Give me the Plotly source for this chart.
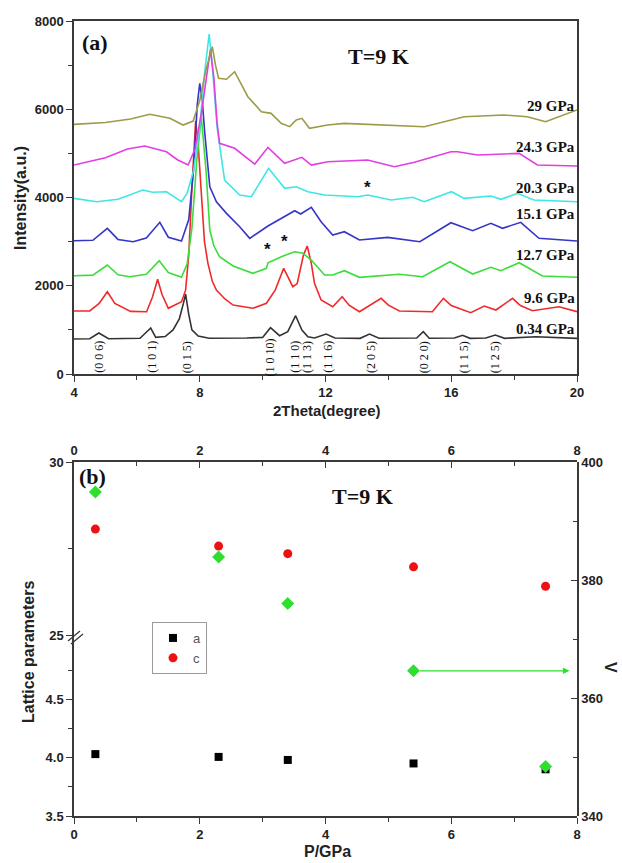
import plotly.graph_objects as go

W, H = 622, 863

# ---------------- Panel (a) data: XRD patterns (2theta in degrees, intensity a.u.) ----------------
black_x = [4.0, 4.5, 4.79, 5.1, 6.1, 6.44, 6.6, 6.9, 7.15, 7.35, 7.48, 7.55, 7.65, 7.75, 7.95, 8.3, 9.5,
           10.0, 10.25, 10.54, 10.8, 11.05, 11.25, 11.44, 11.65, 12.02, 12.3, 13.1, 13.4, 13.7, 14.9,
           15.11, 15.3, 16.1, 16.36, 16.6, 17.1, 17.4, 17.7, 18.69, 20.0]
black_y = [793, 800, 929, 800, 810, 1042, 830, 850, 1000, 1250, 1600, 1813, 1350, 1000, 860, 810, 815,
           830, 1050, 868, 960, 1321, 997, 845, 815, 906, 815, 808, 906, 810, 815,
           960, 810, 815, 877, 808, 815, 884, 808, 845, 808]

red_x = [4.0, 4.5, 4.8, 5.06, 5.3, 5.8, 6.31, 6.5, 6.66, 6.8, 7.0, 7.2, 7.42, 7.55, 7.65, 7.75, 7.82,
         7.87, 7.95, 8.05, 8.15, 8.26, 8.4, 8.53, 8.8, 9.06, 9.69, 10.12, 10.4, 10.67, 10.85, 10.96,
         11.1, 11.3, 11.42, 11.55, 11.65, 11.86, 12.23, 12.53, 12.75, 13.08, 13.77, 14.0, 14.35, 15.4,
         15.75, 16.0, 16.62, 17.05, 17.42, 17.95, 18.2, 18.58, 19.43, 20.0]
red_y = [1428, 1430, 1600, 1865, 1600, 1420, 1412, 1750, 2146, 1800, 1489, 1560, 1638, 1900, 2700, 4200,
         5300, 5740, 5200, 4000, 3000, 2508, 2100, 1903, 1700, 1563, 1489, 1602, 1900, 2395, 2150, 1978,
         2050, 2700, 2900, 2500, 2055, 1677, 1525, 1752, 1560, 1412, 1715, 1560, 1428, 1412,
         1715, 1550, 1389, 1541, 1450, 1715, 1550, 1435, 1525, 1412]

green_x = [4.0, 4.6, 5.06, 5.4, 5.78, 6.3, 6.71, 7.0, 7.42, 7.6, 7.75, 7.9, 8.05, 8.2, 8.32, 8.45, 8.63,
           9.06, 9.69, 10.12, 10.17, 10.65, 11.02, 11.28, 11.55, 11.97, 12.23, 12.6, 13.08, 14.35, 15.09,
           15.96, 16.68, 17.26, 17.58, 18.16, 18.9, 20.0]
green_y = [2228, 2240, 2470, 2250, 2205, 2260, 2568, 2300, 2191, 2500, 3300, 4800, 5830, 4600, 3263, 2900,
           2658, 2447, 2282, 2395, 2522, 2674, 2771, 2735, 2583, 2243, 2243, 2341, 2191, 2259, 2205,
           2545, 2266, 2418, 2341, 2522, 2221, 2191]

blue_x = [4.0, 4.6, 5.06, 5.4, 5.88, 6.3, 6.73, 7.0, 7.42, 7.65, 7.8, 7.92, 8.0, 8.08, 8.16, 8.32, 8.53,
          8.85, 9.27, 9.59, 10.17, 10.59, 11.02, 11.21, 11.55, 11.86, 12.23, 12.6, 13.08, 13.98, 15.0,
          15.99, 16.68, 17.26, 17.63, 18.21, 18.79, 20.0]
blue_y = [3021, 3030, 3301, 3050, 2998, 3080, 3437, 3100, 3014, 3500, 4600, 6100, 6587, 6200, 5460, 4244,
          3904, 3641, 3338, 3075, 3354, 3528, 3701, 3626, 3777, 3451, 3150, 3225, 3036, 3097, 2998,
          3429, 3248, 3414, 3301, 3437, 3075, 3014]

cyan_x = [4.0, 4.72, 5.4, 6.19, 6.5, 6.94, 7.42, 7.6, 7.8, 8.0, 8.15, 8.3, 8.42, 8.55, 8.79, 9.27, 9.64,
          10.19, 10.7, 11.07, 11.44, 11.97, 13.03, 13.34, 14.09, 14.77, 15.14, 16.01, 16.41, 17.26,
          17.58, 18.11, 18.63, 20.0]
cyan_y = [3981, 3905, 3960, 4169, 4120, 4131, 3905, 4100, 4600, 5600, 6800, 7705, 6800, 5600, 4396, 4056,
          4018, 4661, 4208, 4244, 4131, 4056, 4018, 4056, 3943, 4004, 3905, 4131, 3981, 4034,
          3958, 4095, 3943, 3905]

mag_x = [4.0, 5.0, 5.7, 6.25, 6.94, 7.3, 7.63, 7.85, 8.05, 8.2, 8.34, 8.45, 8.55, 8.63, 9.11, 9.75,
         10.17, 10.7, 11.0, 11.25, 11.55, 12.07, 13.34, 14.19, 14.83, 15.99, 16.2, 16.84, 18.16, 18.74, 20.0]
mag_y = [4736, 4900, 5100, 5167, 5037, 4850, 4736, 5100, 5900, 6700, 7357, 6700, 5700, 5227, 5114, 4759,
         5137, 4774, 4850, 4910, 4736, 4811, 4849, 4698, 4797, 5037, 5037, 4962, 5001, 4736, 4713]

olive_x = [4.0, 5.0, 5.8, 6.41, 7.05, 7.47, 7.79, 8.0, 8.2, 8.4, 8.5, 8.6, 8.85, 9.11, 9.53, 9.96,
           10.27, 10.59, 10.86, 11.07, 11.25, 11.49, 12.07, 12.6, 15.14, 16.1, 16.41, 17.68, 18.42, 19.0, 20.0]
olive_y = [5658, 5700, 5780, 5885, 5794, 5643, 5733, 6200, 6900, 7417, 7000, 6700, 6680, 6851, 6284, 5944,
           5907, 5681, 5605, 5756, 5794, 5568, 5643, 5681, 5605, 5771, 5831, 5869, 5831, 5718, 5983]

pressure_labels = ["29 GPa", "24.3 GPa", "20.3 GPa", "15.1 GPa", "12.7 GPa", "9.6 GPa", "0.34 GPa"]
pressure_label_y = [6073, 5144, 4215, 3626, 2697, 1722, 1020]

miller_labels = ["(0 0 6)", "(1 0 1)", "(0 1 5)", "(1 0 10)", "(1 1 0)", "(1 1 3)", "(1 1 6)",
                 "(2 0 5)", "(0 2 0)", "(1 1 5)", "(1 2 5)"]
miller_pos = [4.79, 6.47, 7.6, 10.25, 11.02, 11.41, 12.07, 13.45, 15.14, 16.41, 17.4]

star_x = [10.15, 10.68, 13.32]
star_y = [2826, 2998, 4231]

# tick values / labels
xa_ticks = [4, 8, 12, 16, 20]
ya_ticks = [0, 2000, 4000, 6000, 8000]
p_ticks = [0, 2, 4, 6, 8]
a_ticks = [3.5, 4.0, 4.5]
c_ticks = [25, 30]
v_ticks = [340, 360, 380, 400]

# ---------------- Panel (b) data ----------------
P = [0.34, 2.3, 3.4, 5.4, 7.5]
a_vals = [4.03, 4.006, 3.98, 3.95, 3.90]
c_vals = [28.06, 27.57, 27.35, 26.97, 26.41]
V_vals = [394.9, 383.9, 376.0, 364.6, 348.4]

for xs, ys in [(black_x, black_y), (red_x, red_y), (green_x, green_y), (blue_x, blue_y),
               (cyan_x, cyan_y), (mag_x, mag_y), (olive_x, olive_y)]:
    assert len(xs) == len(ys), (len(xs), len(ys))


def fx(p):
    return p / W


def fy(p):
    return 1 - p / H


def bold(vals, fmt="{}"):
    return ["<b>" + fmt.format(v) + "</b>" for v in vals]


SANS = "Liberation Sans"
SERIF = "Liberation Serif"
AXC = "#3a3a3a"

fig = go.Figure()

curves = [
    (black_x, black_y, "#333333"),
    (red_x, red_y, "#f02a2a"),
    (green_x, green_y, "#3cdc3c"),
    (blue_x, blue_y, "#3535c8"),
    (cyan_x, cyan_y, "#3fe6e6"),
    (mag_x, mag_y, "#e23ee2"),
    (olive_x, olive_y, "#9b9b48"),
]
for xs, ys, col in curves:
    fig.add_trace(go.Scatter(x=xs, y=ys, mode="lines", line=dict(color=col, width=1.6),
                             showlegend=False, xaxis="x", yaxis="y", hoverinfo="skip"))

# Panel (b) traces
fig.add_trace(go.Scatter(x=P, y=a_vals, mode="markers", name="a",
                         marker=dict(symbol="square", size=8, color="black"),
                         xaxis="x2", yaxis="y2"))
fig.add_trace(go.Scatter(x=P, y=c_vals, mode="markers", name="c",
                         marker=dict(symbol="circle", size=9, color="#ee1111"),
                         xaxis="x2", yaxis="y3"))
fig.add_trace(go.Scatter(x=P, y=V_vals, mode="markers", name="V", showlegend=False,
                         marker=dict(symbol="diamond", size=10, color="#2ee02e"),
                         xaxis="x2", yaxis="y4"))
# invisible trace so that the top axis of panel (b) is drawn
fig.add_trace(go.Scatter(x=P, y=c_vals, mode="markers", showlegend=False, hoverinfo="skip",
                         marker=dict(size=1, color="rgba(0,0,0,0)"), xaxis="x3", yaxis="y3"))

xdom = [fx(74), fx(577)]
tickfont = dict(family=SANS, size=13, color="#222")
common = dict(showline=True, linecolor=AXC, linewidth=1.5, showgrid=False, zeroline=False,
              automargin=False, tickfont=tickfont, tickcolor=AXC, ticklen=6, tickwidth=1.3)


def minor(vals, side):
    return dict(tickvals=vals, ticks=side, ticklen=4, tickcolor=AXC, tickwidth=1.2)


fig.update_layout(
    width=W, height=H,
    margin=dict(l=0, r=0, t=0, b=0, autoexpand=False),
    paper_bgcolor="white", plot_bgcolor="rgba(0,0,0,0)",
    xaxis=dict(domain=xdom, range=[4, 20], anchor="y", mirror=True, ticks="outside",
               tickvals=xa_ticks, ticktext=bold(xa_ticks),
               minor=minor([6, 10, 14, 18], "outside"), **common),
    yaxis=dict(domain=[fy(374), fy(21)], range=[0, 8000], anchor="x", mirror=True, ticks="outside",
               tickvals=ya_ticks, ticktext=bold(ya_ticks),
               minor=minor([1000, 3000, 5000, 7000], "outside"), **common),
    xaxis2=dict(domain=xdom, range=[0, 8], anchor="y2", ticks="outside",
                tickvals=p_ticks, ticktext=bold(p_ticks),
                minor=minor([1, 3, 5, 7], "outside"), **common),
    xaxis3=dict(overlaying="x2", range=[0, 8], anchor="y3", side="top", ticks="inside",
                tickvals=p_ticks, ticktext=bold(p_ticks),
                minor=minor([1, 3, 5, 7], "inside"), **common),
    yaxis2=dict(domain=[fy(816), fy(635)], range=[3.5, 5.05], anchor="x2", ticks="outside",
                tickvals=a_ticks, ticktext=bold(a_ticks, "{:.1f}"),
                minor=minor([3.75, 4.25, 4.75], "outside"), **common),
    yaxis3=dict(domain=[fy(635), fy(462)], range=[25, 30], anchor="x2", ticks="outside",
                tickvals=c_ticks, ticktext=bold(c_ticks),
                minor=minor([27.5], "outside"), **common),
    yaxis4=dict(domain=[fy(816), fy(462)], range=[340, 400], anchor="x2", side="right", ticks="inside",
                tickvals=v_ticks, ticktext=bold(v_ticks),
                minor=minor([350, 370, 390], "inside"), **common),
    legend=dict(x=fx(152), y=fy(622), xanchor="left", yanchor="top", bgcolor="white",
                bordercolor="#9a9a9a", borderwidth=1, font=dict(family=SANS, size=13, color="#555"),
                itemwidth=30, tracegroupgap=0),
    showlegend=True,
)

ann = []


def A(**kw):
    kw.setdefault("xanchor", "center")
    kw.setdefault("yanchor", "middle")
    kw.setdefault("showarrow", False)
    ann.append(kw)


# Axis titles
A(text="<b>2Theta(degree)</b>", x=fx(327), y=fy(410), xref="paper", yref="paper",
  font=dict(family=SANS, size=15, color="#222"))
A(text="<b>Intensity(a.u.)</b>", x=fx(20), y=fy(198), xref="paper", yref="paper", textangle=-90,
  font=dict(family=SANS, size=16, color="#222"))
A(text="<b>P/GPa</b>", x=fx(327), y=fy(851), xref="paper", yref="paper",
  font=dict(family=SANS, size=16, color="#222"))
A(text="<b>Lattice parameters</b>", x=fx(28), y=fy(652), xref="paper", yref="paper", textangle=-90,
  font=dict(family=SANS, size=16, color="#222"))
A(text="<b>V</b>", x=fx(611), y=fy(667), xref="paper", yref="paper", textangle=90,
  font=dict(family=SANS, size=16, color="#222"))
# Panel labels
serif_big = dict(family=SERIF, size=22, color="#111")
A(text="<b>(a)</b>", x=fx(95), y=fy(43), xref="paper", yref="paper", font=serif_big)
A(text="<b>T=9 K</b>", x=fx(378), y=fy(56), xref="paper", yref="paper", font=serif_big)
A(text="<b>(b)</b>", x=fx(92), y=fy(476), xref="paper", yref="paper", font=serif_big)
A(text="<b>T=9 K</b>", x=fx(362), y=fy(496), xref="paper", yref="paper", font=serif_big)

# Pressure labels
for lab, yy in zip(pressure_labels, pressure_label_y):
    A(text="<b>" + lab + "</b>", x=20, y=yy, xref="x", yref="y", xanchor="right",
      font=dict(family=SERIF, size=15, color="#111"))
# Miller indices
for lab, xx in zip(miller_labels, miller_pos):
    A(text=lab, x=xx, y=385, xref="x", yref="y", textangle=-90,
      font=dict(family=SERIF, size=12, color="#111"))
# Asterisks
for xx, yy in zip(star_x, star_y):
    A(text="<b>*</b>", x=xx, y=yy, xref="x", yref="y",
      font=dict(family=SANS, size=17, color="#111"))
# Green arrow toward the V axis
ann.append(dict(text="", x=7.88, y=V_vals[3], ax=P[3] + 0.08, ay=V_vals[3], xref="x2", yref="y4",
                axref="x2", ayref="y4", showarrow=True, arrowhead=2, arrowsize=1, arrowwidth=1.3,
                arrowcolor="#2ee02e"))
fig.update_layout(annotations=ann)

# Axis break marks on the left axis of panel (b)
shapes = []
for dx in (0, 3):
    shapes.append(dict(type="line", xref="paper", yref="paper",
                       x0=fx(68 + dx), y0=fy(641 + dx), x1=fx(80 + dx), y1=fy(631 + dx),
                       line=dict(color=AXC, width=1.3)))
fig.update_layout(shapes=shapes)

fig.write_html("out.html", config={"displayModeBar": False},
               post_script="document.body.style.margin='0';document.body.style.overflow='hidden';")
